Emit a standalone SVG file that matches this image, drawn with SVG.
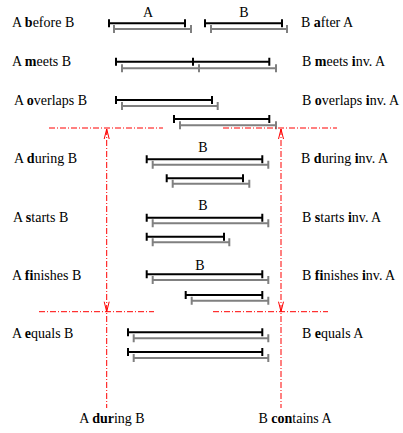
<svg xmlns="http://www.w3.org/2000/svg" width="403" height="433" viewBox="0 0 403 433">
<style>
text{font-size:14px;fill:#000}
.b{font-weight:bold}
.k{stroke:#000;stroke-width:2;fill:none}
.g{stroke:#808080;stroke-width:2;fill:none}
.r{stroke:#ff0000;stroke-width:1;fill:none;stroke-dasharray:6 2 1 2}
.ah{stroke:#ff0000;stroke-width:1;fill:none}
</style>
<rect width="403" height="433" fill="#fff"/>
<g font-family="Liberation Serif, DejaVu Serif, serif">
<g id="before">
<text x="12" y="27">A <tspan class="b">b</tspan>efore B</text>
<text x="301" y="27">B <tspan class="b">a</tspan>fter A</text>
<text x="148" y="17" text-anchor="middle">A</text>
<text x="244" y="17" text-anchor="middle">B</text>
<path class="k" d="M109,23.3H185M109,19.3V27.3M185,19.3V27.3M205,23.3H282M205,19.3V27.3M282,19.3V27.3"/>
<path class="g" d="M114,29H191M114,25V33M191,25V33M211,29H287M211,25V33M287,25V33"/>
</g>
<g id="meets">
<text x="12" y="66">A <tspan class="b">m</tspan>eets B</text>
<text x="302" y="66">B <tspan class="b">m</tspan>eets <tspan class="b">i</tspan>nv. A</text>
<path class="k" d="M116,61.7H269.3M116,57.7V65.7M193,57.7V65.7M269.3,57.7V65.7"/>
<path class="g" d="M122,68.3H276M122,64.3V72.3M199,64.3V72.3M276,64.3V72.3"/>
</g>
<g id="overlaps">
<text x="14" y="105">A <tspan class="b">o</tspan>verlaps B</text>
<text x="302" y="105">B <tspan class="b">o</tspan>verlaps <tspan class="b">i</tspan>nv. A</text>
<path class="k" d="M116,100H212M116,96V104M212,96V104M174,119H269.3M174,115V123M269.3,115V123"/>
<path class="g" d="M122,106H217.7M122,102V110M217.7,102V110M180,125.3H276M180,121.3V129.3M276,121.3V129.3"/>
</g>
<g id="during">
<text x="14" y="163">A <tspan class="b">d</tspan>uring B</text>
<text x="301" y="163">B <tspan class="b">d</tspan>uring <tspan class="b">i</tspan>nv. A</text>
<text x="203" y="152" text-anchor="middle">B</text>
<path class="k" d="M146.7,159.3H262.3M146.7,155.3V163.3M262.3,155.3V163.3M166.7,178.3H243M166.7,174.3V182.3M243,174.3V182.3"/>
<path class="g" d="M152.7,164.7H268.3M152.7,160.7V168.7M268.3,160.7V168.7M172.7,183.7H249.3M172.7,179.7V187.7M249.3,179.7V187.7"/>
</g>
<g id="starts">
<text x="13" y="221.5">A <tspan class="b">s</tspan>tarts B</text>
<text x="302" y="221.5">B <tspan class="b">s</tspan>tarts <tspan class="b">i</tspan>nv. A</text>
<text x="203" y="210" text-anchor="middle">B</text>
<path class="k" d="M146.7,217.7H262.3M146.7,213.7V221.7M262.3,213.7V221.7M146.7,236.7H224M146.7,232.7V240.7M224,232.7V240.7"/>
<path class="g" d="M152.7,223.3H268.3M152.7,219.3V227.3M268.3,219.3V227.3M152.7,242.3H229.3M152.7,238.3V246.3M229.3,238.3V246.3"/>
</g>
<g id="finishes">
<text x="12" y="280">A <tspan class="b">fi</tspan>nishes B</text>
<text x="302" y="280">B <tspan class="b">fi</tspan>nishes <tspan class="b">i</tspan>nv. A</text>
<text x="200" y="270" text-anchor="middle">B</text>
<path class="k" d="M146.7,274.3H262.3M146.7,270.3V278.3M262.3,270.3V278.3M185.7,295H262.3M185.7,291V299M262.3,291V299"/>
<path class="g" d="M152.7,280H268.3M152.7,276V284M268.3,276V284M191.7,300.7H268.3M191.7,296.7V304.7M268.3,296.7V304.7"/>
</g>
<g id="equals">
<text x="12" y="338">A <tspan class="b">e</tspan>quals B</text>
<text x="302" y="338">B <tspan class="b">e</tspan>quals A</text>
<path class="k" d="M128,332.3H262.3M128,328.3V336.3M262.3,328.3V336.3M128,352H262.3M128,348V356M262.3,348V356"/>
<path class="g" d="M133.7,338.3H268.3M133.7,334.3V342.3M268.3,334.3V342.3M133.7,358H268.3M133.7,354V362M268.3,354V362"/>
</g>
<g id="bottom-labels">
<text x="112" y="423" text-anchor="middle">A <tspan class="b">dur</tspan>ing B</text>
<text x="295" y="423" text-anchor="middle">B <tspan class="b">con</tspan>tains A</text>
</g>
</g>
<g id="connectors">
<path class="r" d="M49,128H163M223,128H337M39,311.7H154M213,311.7H328"/>
<path class="r" d="M106.7,129V408M281,129V408"/>
<path class="ah" d="M104.2,139L106.7,129L109.2,139M278.5,139L281,129L283.5,139M104.2,301.7L106.7,311.7L109.2,301.7M278.5,301.7L281,311.7L283.5,301.7"/>
</g>
</svg>
